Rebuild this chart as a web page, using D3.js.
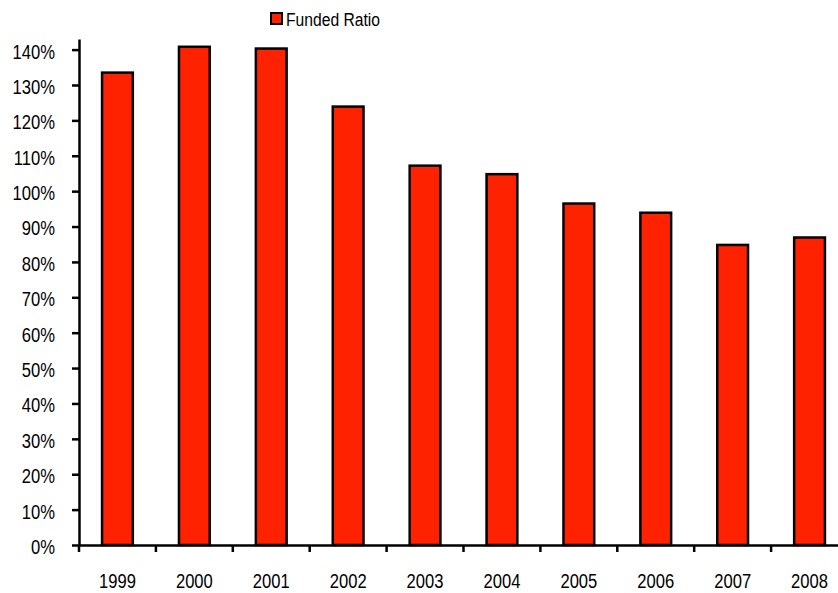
<!DOCTYPE html>
<html>
<head>
<meta charset="utf-8">
<script src="https://cdn.jsdelivr.net/npm/d3@7"></script>
<style>
  html, body { margin: 0; padding: 0; background: #fff; }
  svg { display: block; }
  text { font-family: "Liberation Sans Narrow", "Arial Narrow", "Liberation Sans", Arial, sans-serif; fill: #000; }
</style>
</head>
<body>
<svg id="chart" width="838" height="593"></svg>
<script>
// Funded ratio by year
const years = ["1999", "2000", "2001", "2002", "2003", "2004", "2005", "2006", "2007", "2008"];
const fundedRatio = [1.335, 1.408, 1.403, 1.239, 1.072, 1.048, 0.965, 0.939, 0.848, 0.869];
const yTicks = [0, 0.1, 0.2, 0.3, 0.4, 0.5, 0.6, 0.7, 0.8, 0.9, 1.0, 1.1, 1.2, 1.3, 1.4];
const yTickLabels = ["0%", "10%", "20%", "30%", "40%", "50%", "60%", "70%", "80%", "90%", "100%", "110%", "120%", "130%", "140%"];
const seriesName = "Funded Ratio";

const svg = d3.select("#chart");
const plotLeft = 79, plotBottom = 545, plotTop = 39, bandStep = 76.9;

const x = d3.scaleBand()
  .domain(years)
  .range([plotLeft, plotLeft + bandStep * years.length])
  .paddingInner(0.6)
  .paddingOuter(0.3);

const y = d3.scaleLinear()
  .domain([0, 1.43])
  .range([plotBottom, plotTop]);

// bars
svg.append("g")
  .selectAll("rect")
  .data(years)
  .join("rect")
  .attr("x", d => x(d))
  .attr("width", x.bandwidth())
  .attr("y", (d, i) => y(fundedRatio[i]))
  .attr("height", (d, i) => y(0) - y(fundedRatio[i]))
  .attr("fill", "#ff2200")
  .attr("stroke", "#000")
  .attr("stroke-width", 2.5);

// y axis
const yAxis = d3.axisLeft(y)
  .tickValues(yTicks)
  .tickFormat((d, i) => yTickLabels[i])
  .tickSize(7)
  .tickSizeOuter(0)
  .tickPadding(17);

const gy = svg.append("g")
  .attr("transform", `translate(${plotLeft},0)`)
  .call(yAxis);
gy.select(".domain").attr("stroke", "#000").attr("stroke-width", 2.5);
gy.selectAll(".tick line").attr("stroke", "#000").attr("stroke-width", 2.5);
gy.selectAll(".tick text")
  .attr("font-size", 20)
  .attr("dy", "0.42em");
gy.attr("font-family", null);

// x axis: labels centred on bands, tick marks on band boundaries
const xAxis = d3.axisBottom(x)
  .tickSize(0)
  .tickSizeOuter(0)
  .tickPadding(29);

const gx = svg.append("g")
  .attr("transform", `translate(0,${plotBottom})`)
  .call(xAxis);
gx.select(".domain").attr("stroke", "#000").attr("stroke-width", 2.5);
gx.selectAll(".tick text")
  .attr("font-size", 20);
gx.attr("font-family", null);

const boundaries = years.map(d => x(d) - x.step() * x.paddingOuter());
gx.selectAll(".boundary")
  .data(boundaries)
  .join("line")
  .attr("class", "boundary")
  .attr("x1", d => d).attr("x2", d => d)
  .attr("y1", 0).attr("y2", 7)
  .attr("stroke", "#000")
  .attr("stroke-width", 2.5);

// narrow lettering: condense the axis labels horizontally
svg.selectAll("text").each(function () {
  const w = this.getComputedTextLength();
  d3.select(this)
    .attr("textLength", (w * 0.83).toFixed(1))
    .attr("lengthAdjust", "spacingAndGlyphs");
});

// legend
const legend = svg.append("g").attr("transform", "translate(271,13)");
legend.append("rect")
  .attr("width", 11).attr("height", 11)
  .attr("fill", "#ff2200")
  .attr("stroke", "#000")
  .attr("stroke-width", 2);
legend.append("text")
  .attr("x", 15)
  .attr("y", 12.5)
  .attr("font-size", 18)
  .attr("textLength", 94)
  .attr("lengthAdjust", "spacingAndGlyphs")
  .text(seriesName);
</script>
</body>
</html>
